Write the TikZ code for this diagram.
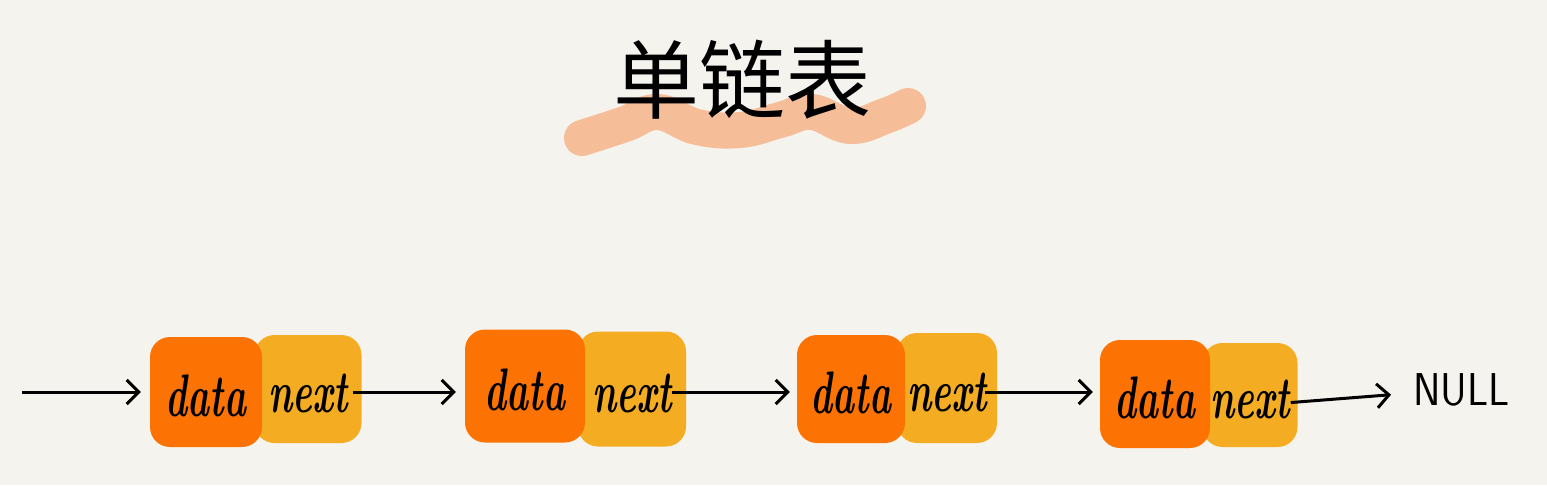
\documentclass[tikz,border=0pt]{standalone}
\usepackage{fontspec}
\usepackage{graphicx}
\newfontfamily\cjk{Noto Sans CJK SC}
\usetikzlibrary{arrows.meta}
\definecolor{bgc}{HTML}{F5F3EE}
\definecolor{dataorange}{HTML}{FC7303}
\definecolor{nextyellow}{HTML}{F4AD22}
\definecolor{brush}{HTML}{F6BE98}
\tikzset{
  cell/.style={rounded corners=20pt, inner sep=0pt},
  datacell/.style={cell, fill=dataorange},
  nextcell/.style={cell, fill=nextyellow},
  celltext/.style={font=\fontsize{60}{60}\selectfont\bfseries\itshape},
  link/.style={line width=3pt, draw=black, -{Straight Barb[length=12pt,width=24pt,line width=3pt]}},
}
\newcommand{\hand}[1]{\scalebox{0.62}[1]{#1}}
\begin{document}
\begin{tikzpicture}[x=1pt,y=-1pt]
\fill[bgc] (0,0) rectangle (1547,485);
\useasboundingbox (0,0) rectangle (1547,485);
% brush stroke under title
\draw[brush, line width=36pt, line cap=round, line join=round]
  plot[smooth, tension=0.7] coordinates {(582,138) (625,124) (658,112) (697,127) (740,130) (780,120) (812,112) (850,126) (885,116) (908,106)};
% title
\node (title) at (742,80) {\cjk\fontsize{86}{86}\selectfont 单链表};
% cells
\node[nextcell, minimum width=107pt, minimum height=108pt] (n1) at (308,389) {};
\node[datacell, minimum width=112pt, minimum height=110pt] (d1) at (206,392) {};
\node[nextcell, minimum width=108pt, minimum height=115pt] (n2) at (632,389) {};
\node[datacell, minimum width=120pt, minimum height=113pt] (d2) at (525,386) {};
\node[nextcell, minimum width=100pt, minimum height=110pt] (n3) at (947,388) {};
\node[datacell, minimum width=108pt, minimum height=108pt] (d3) at (851,389) {};
\node[nextcell, minimum width=95pt, minimum height=104pt] (n4) at (1250,395) {};
\node[datacell, minimum width=110pt, minimum height=108pt] (d4) at (1155,394) {};
% labels
\foreach \i in {1,...,4}{
  \node[celltext] (dl\i) at ([yshift=-4pt]d\i.center) {\hand{data}};
  \node[celltext] (nl\i) at ([yshift=-4pt]n\i.center) {\hand{next}};
}
\node[font=\fontsize{46}{46}\selectfont\sffamily, anchor=west, inner sep=0pt] (null) at (1413,390) {\scalebox{0.9}[1]{NULL}};
\coordinate (start) at (22,392);
% links
\draw[link, shorten >=9pt] (start) -- (d1.west |- start);
\draw[link, shorten <=-9pt, shorten >=9pt] (n1.east |- start) -- (d2.west |- start);
\draw[link, shorten <=-14pt, shorten >=7pt] (n2.east |- start) -- (d3.west |- start);
\draw[link, shorten <=-12pt, shorten >=7pt] (n3.east |- start) -- (d4.west |- start);
\draw[link, shorten <=-7pt, shorten >=22pt] ([yshift=-10pt]n4.east |- start) -- ([yshift=-3pt]null.west);
\end{tikzpicture}
\end{document}
